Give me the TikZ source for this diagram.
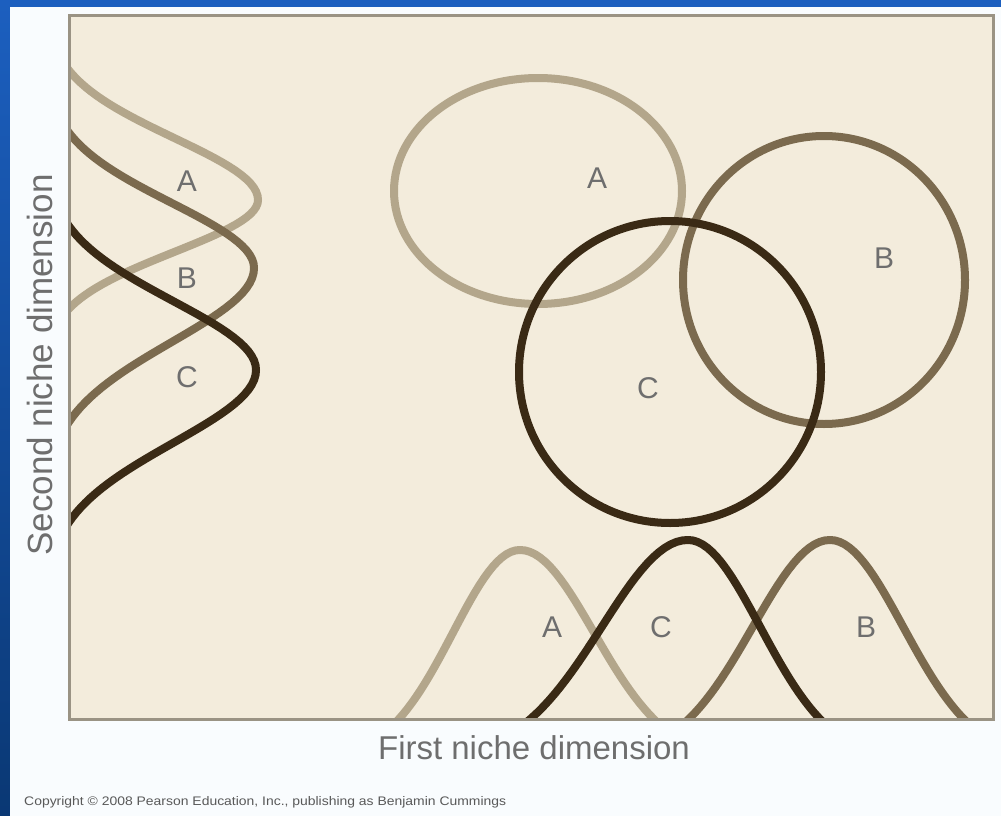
\documentclass[tikz,border=0pt]{standalone}
\usepackage{fontspec}
\setmainfont{Liberation Sans}
\definecolor{nicheA}{HTML}{B3A68B}
\definecolor{nicheB}{HTML}{7B6A4E}
\definecolor{nicheC}{HTML}{3A2A15}
\definecolor{paper}{HTML}{F3ECDC}
\definecolor{frameline}{HTML}{9A9384}
\definecolor{labelgrey}{HTML}{6E6E6E}
\definecolor{bluetop}{HTML}{1C5FBF}
\definecolor{bluebot}{HTML}{0A3874}
\definecolor{sheet}{HTML}{F9FCFE}
\begin{document}
\begin{tikzpicture}[x=1pt,y=-1pt,
  curveA/.style={draw=nicheA, line width=8pt, line join=round},
  curveB/.style={draw=nicheB, line width=8pt, line join=round},
  curveC/.style={draw=nicheC, line width=8pt, line join=round},
  lbl/.style={text=labelgrey, font=\fontsize{30}{30}\selectfont, inner sep=0pt},
  axislbl/.style={text=labelgrey, inner sep=0pt}]
\useasboundingbox (0,0) rectangle (1001,816);
% blue frame and white sheet
\shade[top color=bluetop, bottom color=bluebot] (0,0) rectangle (1001,816);
\fill[sheet] (10,7) rectangle (1001,816);
% plot area
\fill[paper] (69,15) rectangle (994,719);
\begin{scope}
\clip (70.5,16.5) rectangle (992.5,717.5);
% left (second dimension) curves
\draw[curveA] plot[domain=-3.3:0, samples=50] ({45+213*exp(-0.5*\x*\x)}, {200+62*\x})
   -- plot[domain=0:3.3, samples=50] ({45+213*exp(-0.5*\x*\x)}, {200+52*\x});
\draw[curveB] plot[domain=-3.3:0, samples=50] ({45+209*exp(-0.5*\x*\x)}, {268+65*\x})
   -- plot[domain=0:3.3, samples=50] ({45+209*exp(-0.5*\x*\x)}, {268+74*\x});
\draw[curveC] plot[domain=-3.3:0, samples=50] ({45+211*exp(-0.5*\x*\x)}, {370+69*\x})
   -- plot[domain=0:3.3, samples=50] ({45+211*exp(-0.5*\x*\x)}, {370+73*\x});
% bottom (first dimension) curves
\draw[curveA] plot[domain=-3.3:0, samples=50] ({520+67*\x}, {760-210*exp(-0.5*\x*\x)})
   -- plot[domain=0:3.3, samples=50] ({520+74*\x}, {760-210*exp(-0.5*\x*\x)});
\draw[curveB] plot[domain=-3.3:0, samples=50] ({830+77*\x}, {760-220*exp(-0.5*\x*\x)})
   -- plot[domain=0:3.3, samples=50] ({830+73*\x}, {760-220*exp(-0.5*\x*\x)});
\draw[curveC] plot[domain=-3.3:0, samples=50] ({688+86*\x}, {760-220*exp(-0.5*\x*\x)})
   -- plot[domain=0:3.3, samples=50] ({688+72*\x}, {760-220*exp(-0.5*\x*\x)});
\end{scope}
% niche ellipses
\draw[curveA] (538,191) ellipse [x radius=144pt, y radius=113pt];
\draw[curveB] (824,280) ellipse [x radius=141pt, y radius=144pt];
\draw[curveC] (670,372) ellipse [x radius=151pt, y radius=151pt];
% frame
\draw[frameline, line width=3pt] (69.5,15.5) rectangle (993.5,719);
% labels
\node[lbl] (eA) at (597,178) {A};
\node[lbl] (eB) at (884,258) {B};
\node[lbl] (eC) at (648,388) {C};
\node[lbl] (lA) at (187,181) {A};
\node[lbl] (lB) at (187,278) {B};
\node[lbl] (lC) at (187,377) {C};
\node[lbl] (bA) at (552,627) {A};
\node[lbl] (bC) at (661,627) {C};
\node[lbl] (bB) at (866,627) {B};
% axis titles
\node[axislbl, font=\fontsize{33}{33}\selectfont] (xt) at (534,748) {First niche dimension};
\node[axislbl, rotate=90, font=\fontsize{35}{35}\selectfont] (yt) at (40,365) {Second niche dimension};
\node[inner sep=0pt, text=black!65, anchor=west] (cr) at (24,802)
  {\resizebox{482pt}{9pt}{Copyright \textcopyright{} 2008 Pearson Education, Inc., publishing as Benjamin Cummings}};
\end{tikzpicture}
\end{document}
